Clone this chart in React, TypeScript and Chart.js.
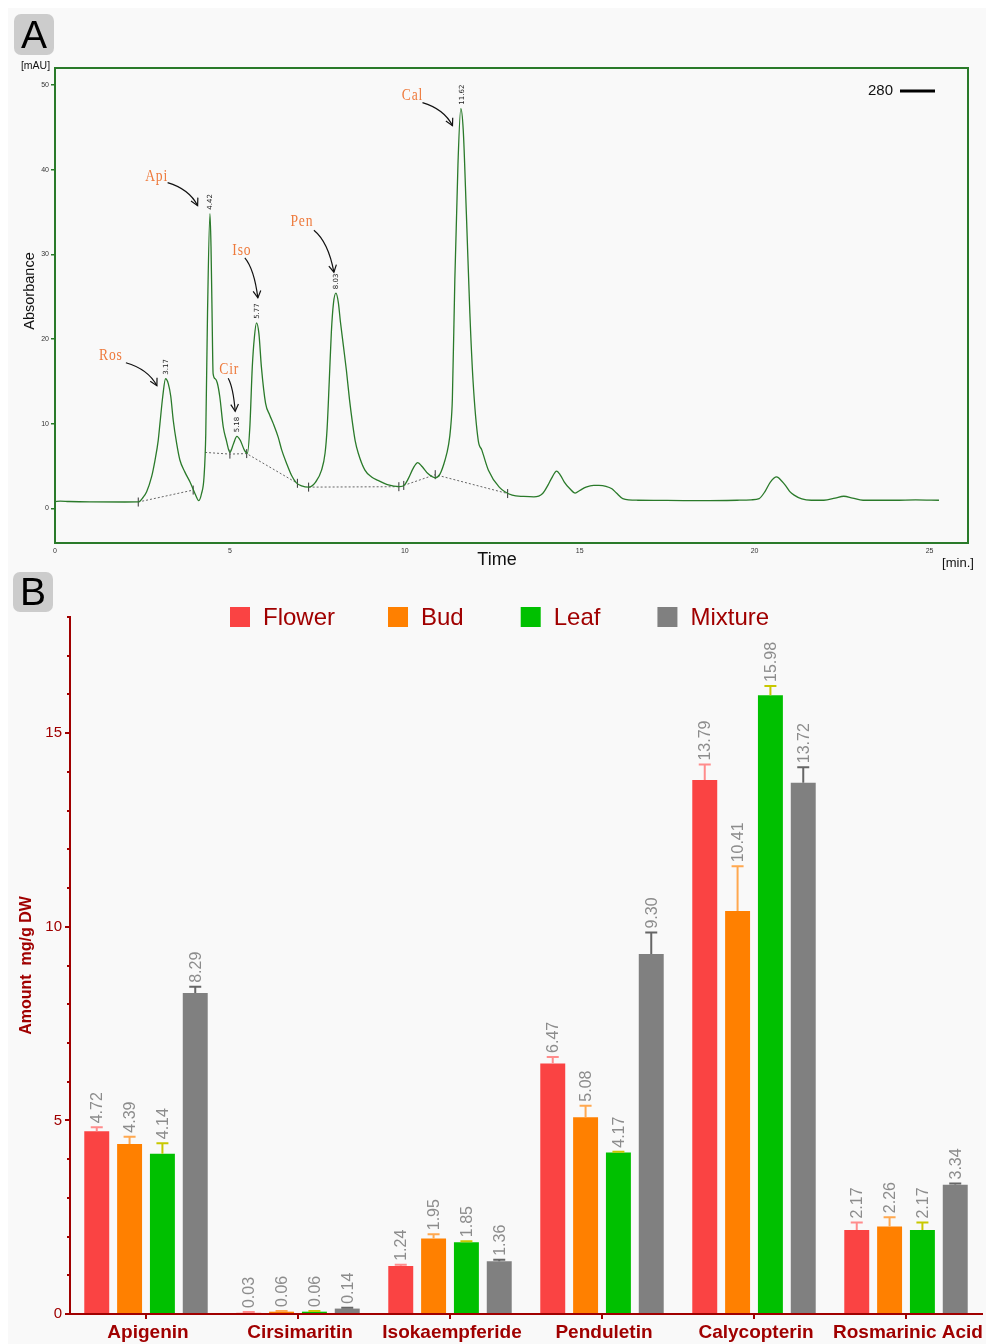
import React, { useEffect, useRef } from 'react';
import { Chart, registerables } from 'chart.js';
Chart.register(...registerables);

// ---------- Panel A : chromatogram (280 nm) ----------
const timeMin = [0, 0.15, 0.4, 1.0, 2.0, 2.38, 2.52, 2.62, 2.76, 2.86, 2.95, 3.0, 3.08, 3.16, 3.24, 3.31, 3.38, 3.48, 3.57, 3.71, 3.86, 4.0, 4.11, 4.19, 4.26, 4.31, 4.36, 4.43, 4.46, 4.49, 4.52, 4.58, 4.64, 4.71, 4.81, 4.9, 5.0, 5.1, 5.2, 5.3, 5.41, 5.5, 5.57, 5.64, 5.7, 5.76, 5.83, 5.9, 6.02, 6.14, 6.24, 6.38, 6.48, 6.62, 6.76, 6.9, 7.05, 7.25, 7.45, 7.62, 7.72, 7.78, 7.84, 7.9, 7.96, 8.03, 8.1, 8.16, 8.25, 8.33, 8.42, 8.5, 8.58, 8.67, 8.86, 9.05, 9.23, 9.5, 9.85, 10.0, 10.1, 10.25, 10.37, 10.5, 10.66, 10.87, 11.0, 11.15, 11.25, 11.31, 11.36, 11.43, 11.52, 11.6, 11.67, 11.76, 11.86, 11.95, 12.1, 12.2, 12.39, 12.7, 13.07, 13.4, 13.69, 13.94, 14.1, 14.19, 14.34, 14.45, 14.56, 14.72, 14.87, 15.0, 15.18, 15.4, 15.55, 15.75, 15.92, 16.05, 16.23, 16.66, 17.5, 18.5, 19.5, 19.9, 20.13, 20.3, 20.45, 20.63, 20.78, 20.88, 21.0, 21.13, 21.35, 21.62, 21.98, 22.3, 22.55, 22.8, 23.1, 24.0, 24.6, 25.27];
const absorbance = [0.78, 0.85, 0.8, 0.75, 0.74, 0.75, 1.3, 1.95, 3.7, 5.7, 8.0, 10.0, 13.2, 15.3, 14.7, 13.2, 10.4, 7.6, 5.7, 4.3, 3.1, 1.75, 0.9, 1.75, 3.7, 8.8, 23.0, 34.8, 30.9, 23.0, 15.9, 15.3, 14.8, 13.2, 9.6, 8.0, 6.6, 7.6, 8.5, 8.0, 6.9, 6.5, 9.6, 16.7, 20.2, 21.9, 20.6, 16.7, 12.4, 11.0, 10.0, 8.4, 6.9, 5.3, 3.9, 3.0, 2.65, 2.5, 3.1, 4.5, 6.5, 9.5, 15.0, 20.8, 24.2, 25.4, 24.3, 22.0, 19.0, 16.3, 12.8, 10.2, 8.0, 6.5, 4.5, 3.7, 3.3, 2.8, 2.55, 2.8, 3.5, 4.8, 5.4, 4.9, 4.1, 3.6, 4.0, 5.7, 7.5, 9.5, 13.0, 27.0, 40.7, 47.2, 44.7, 34.8, 23.0, 15.1, 8.0, 6.9, 4.5, 2.5, 1.55, 1.4, 1.35, 1.75, 2.8, 3.5, 4.4, 3.9, 3.1, 2.3, 1.8, 2.1, 2.5, 2.7, 2.7, 2.6, 2.3, 1.8, 1.15, 0.95, 0.93, 0.9, 0.95, 1.0, 1.15, 2.0, 3.1, 3.7, 3.2, 2.7, 2.0, 1.55, 1.1, 0.95, 0.95, 1.2, 1.42, 1.2, 0.95, 0.95, 1.0, 0.95];

const baselineTimes = [[2.38, 3.95], [4.29, 5.0, 5.48, 6.95], [7.25, 9.85], [9.97, 10.87, 12.94]];
const baselineLevels = [[0.74, 2.15], [6.6, 6.4, 6.46, 2.9], [2.5, 2.55], [2.7, 3.97, 1.74]];

const integrationTimes = [2.38, 3.95, 5.0, 5.48, 6.93, 7.25, 9.83, 9.97, 10.87, 12.94];
const integrationLevels = [0.74, 2.15, 6.4, 6.46, 2.95, 2.5, 2.55, 2.7, 3.97, 1.74];

const peakNames = ['Ros', 'Api', 'Cir', 'Iso', 'Pen', 'Cal'];
const peakTimes = [3.17, 4.42, 5.18, 5.77, 8.03, 11.62];
const peakHeights = [15.3, 34.8, 8.5, 21.9, 25.4, 47.2];

const xTicksA = [0, 5, 10, 15, 20, 25];
const yTicksA = [0, 10, 20, 30, 40, 50];

// ---------- Panel B : bar chart ----------
const compounds = ['Apigenin', 'Cirsimaritin', 'Isokaempferide', 'Penduletin', 'Calycopterin', 'Rosmarinic Acid'];
const seriesNames = ['Flower', 'Bud', 'Leaf', 'Mixture'];
const flower = [4.72, 0.03, 1.24, 6.47, 13.79, 2.17];
const flowerErr = [0.10, 0.02, 0.03, 0.17, 0.40, 0.19];
const bud = [4.39, 0.06, 1.95, 5.08, 10.41, 2.26];
const budErr = [0.19, 0.02, 0.11, 0.30, 1.15, 0.24];
const leaf = [4.14, 0.06, 1.85, 4.17, 15.98, 2.17];
const leafErr = [0.27, 0.02, 0.03, 0.02, 0.24, 0.19];
const mixture = [8.29, 0.14, 1.36, 9.30, 13.72, 3.34];
const mixtureErr = [0.16, 0.02, 0.04, 0.55, 0.40, 0.03];

const SANS = '"Liberation Sans", Arial, sans-serif';
const GREEN = '#2a7a2a';
const ORANGE = '#ee7a3c';
const DARKRED = '#a00000';
const barColors = ['#fa4343', '#ff8000', '#00c000', '#808080'];
const errColors = ['#ff8c8c', '#ffa84f', '#c8c800', '#666666'];

// pixel offsets of annotation text / arrows relative to each peak apex (styling)
const ANNOT = [
  { tx: -55, ty: -23, sx: -40, sy: -16, ex: -9, ey: 7 },
  { tx: -53, ty: -37, sx: -42, sy: -31, ex: -12, ey: -8 },
  { tx: -7, ty: -67, sx: -8, sy: -58, ex: -1, ey: -25 },
  { tx: -15, ty: -72, sx: -12, sy: -65, ex: 1, ey: -25 },
  { tx: -34, ty: -71, sx: -22, sy: -63, ex: -2, ey: -21 },
  { tx: -49, ty: -13, sx: -39, sy: -6, ex: -9, ey: 17 },
];

function drawArrow(ctx: CanvasRenderingContext2D, sx: number, sy: number, ex: number, ey: number) {
  const cx = sx + (ex - sx) * 0.72;
  const cy = sy + (ey - sy) * 0.28;
  ctx.beginPath();
  ctx.moveTo(sx, sy);
  ctx.quadraticCurveTo(cx, cy, ex, ey);
  ctx.stroke();
  const ang = Math.atan2(ey - cy, ex - cx);
  const L = 8;
  ctx.beginPath();
  ctx.moveTo(ex - L * Math.cos(ang - 0.5), ey - L * Math.sin(ang - 0.5));
  ctx.lineTo(ex, ey);
  ctx.lineTo(ex - L * Math.cos(ang + 0.5), ey - L * Math.sin(ang + 0.5));
  ctx.stroke();
}

const chromPlugin = {
  id: 'chromAnnot',
  afterDraw(chart: any) {
    const { ctx, chartArea: a, scales } = chart;
    const x = scales.x, y = scales.y;
    ctx.save();
    ctx.strokeStyle = GREEN;
    ctx.lineWidth = 2;
    ctx.strokeRect(a.left, a.top, a.right - a.left, a.bottom - a.top);

    peakTimes.forEach((t, i) => {
      const px = x.getPixelForValue(t);
      const py = y.getPixelForValue(peakHeights[i]);
      ctx.save();
      ctx.translate(px + 0.5, py - 4);
      ctx.rotate(-Math.PI / 2);
      ctx.font = '7px "DejaVu Sans", sans-serif';
      ctx.fillStyle = '#222';
      ctx.textAlign = 'left';
      ctx.textBaseline = 'middle';
      ctx.fillText(t.toFixed(2), 0, 0);
      ctx.restore();

      const o = ANNOT[i];
      ctx.save();
      ctx.translate(px + o.tx, py + o.ty);
      ctx.scale(0.85, 1);
      ctx.font = '16px "Liberation Serif", serif';
      (ctx as any).letterSpacing = '1px';
      ctx.fillStyle = ORANGE;
      ctx.textAlign = 'center';
      ctx.textBaseline = 'middle';
      ctx.fillText(peakNames[i], 0, 0);
      ctx.restore();

      ctx.strokeStyle = '#111';
      ctx.lineWidth = 1.2;
      drawArrow(ctx, px + o.sx, py + o.sy, px + o.ex, py + o.ey);
    });

    ctx.fillStyle = '#111';
    ctx.font = '10.5px ' + SANS;
    ctx.textAlign = 'center';
    ctx.textBaseline = 'middle';
    ctx.fillText('[mAU]', a.left - 19.5, a.top - 2);

    ctx.font = '18px ' + SANS;
    ctx.fillText('Time', (a.left + a.right) / 2 - 14.5, a.bottom + 17);
    ctx.font = '13px ' + SANS;
    ctx.fillText('[min.]', a.right - 10, a.bottom + 20);

    ctx.save();
    ctx.translate(a.left - 25, (a.top + a.bottom) / 2 - 14.5);
    ctx.rotate(-Math.PI / 2);
    ctx.font = '14.5px ' + SANS;
    ctx.fillText('Absorbance', 0, 0);
    ctx.restore();

    // series legend "280 ——"
    ctx.font = '15px ' + SANS;
    ctx.textAlign = 'right';
    ctx.fillText(chart.data.datasets[0].label, a.right - 75, a.top + 23);
    ctx.strokeStyle = '#000';
    ctx.lineWidth = 3;
    ctx.beginPath();
    ctx.moveTo(a.right - 68, a.top + 23);
    ctx.lineTo(a.right - 33, a.top + 23);
    ctx.stroke();
    ctx.restore();
  },
};

const errSets = [flowerErr, budErr, leafErr, mixtureErr];

const barPlugin = {
  id: 'barExtras',
  afterDatasetsDraw(chart: any) {
    const { ctx, scales } = chart;
    const ys = scales.y;
    ctx.save();
    chart.data.datasets.forEach((ds: any, di: number) => {
      const meta = chart.getDatasetMeta(di);
      meta.data.forEach((bar: any, i: number) => {
        const v = ds.data[i];
        const e = errSets[di][i];
        const yBar = ys.getPixelForValue(v);
        const yTop = ys.getPixelForValue(v + e);
        ctx.strokeStyle = errColors[di];
        ctx.lineWidth = 2;
        ctx.beginPath();
        ctx.moveTo(bar.x, yBar);
        ctx.lineTo(bar.x, yTop);
        ctx.moveTo(bar.x - 6, yTop);
        ctx.lineTo(bar.x + 6, yTop);
        ctx.stroke();

        ctx.save();
        ctx.translate(bar.x + 1, yTop - 4);
        ctx.rotate(-Math.PI / 2);
        ctx.font = '16px ' + SANS;
        ctx.fillStyle = '#8c8c8c';
        ctx.textAlign = 'left';
        ctx.textBaseline = 'middle';
        ctx.fillText(v.toFixed(2), 0, 0);
        ctx.restore();
      });
    });
    ctx.restore();
  },
  afterDraw(chart: any) {
    const { ctx, chartArea: a, scales } = chart;
    const ys = scales.y;
    ctx.save();
    // minor ticks
    ctx.strokeStyle = DARKRED;
    ctx.lineWidth = 2;
    for (let v = Math.ceil(ys.min); v <= ys.max; v++) {
      if (v % 5 === 0) continue;
      const py = Math.round(ys.getPixelForValue(v));
      ctx.beginPath();
      ctx.moveTo(a.left - 3, py);
      ctx.lineTo(a.left, py);
      ctx.stroke();
    }
    // legend
    let lx = 222;
    const ly = a.top;
    ctx.font = '24px ' + SANS;
    ctx.textBaseline = 'middle';
    ctx.textAlign = 'left';
    chart.data.datasets.forEach((ds: any, i: number) => {
      ctx.fillStyle = ds.backgroundColor;
      ctx.fillRect(lx, ly - 10, 20, 20);
      ctx.fillStyle = DARKRED;
      ctx.fillText(ds.label, lx + 33, ly + 1);
      lx += 33 + ctx.measureText(ds.label).width + (i === 0 ? 53 : 57);
    });
    // y title
    ctx.save();
    ctx.translate(19, (a.top + a.bottom) / 2);
    ctx.rotate(-Math.PI / 2);
    ctx.font = 'bold 16px ' + SANS;
    ctx.fillStyle = DARKRED;
    ctx.textAlign = 'center';
    ctx.fillText('Amount  mg/g DW', 0, 0);
    ctx.restore();
    ctx.restore();
  },
};

export default function App() {
  const refA = useRef<HTMLCanvasElement>(null);
  const refB = useRef<HTMLCanvasElement>(null);

  useEffect(() => {
    document.documentElement.style.overflow = 'hidden';
    document.body.style.margin = '8px 0 0 8px';
    Chart.defaults.font.family = SANS;

    const chartA = new Chart(refA.current!, {
      type: 'line',
      data: {
        datasets: [
          {
            label: '280',
            data: timeMin.map((t, i) => ({ x: t, y: absorbance[i] })),
            borderColor: GREEN,
            borderWidth: 1.3,
            pointRadius: 0,
            cubicInterpolationMode: 'monotone',
            fill: false,
          } as any,
          ...baselineTimes.map((seg, si) => ({
            label: 'baseline' + si,
            data: seg.map((t, i) => ({ x: t, y: baselineLevels[si][i] })),
            borderColor: '#666',
            borderWidth: 1,
            borderDash: [2, 2],
            pointRadius: 0,
            tension: 0,
            fill: false,
          })),
          {
            label: 'integration',
            data: integrationTimes.map((t, i) => ({ x: t, y: integrationLevels[i] })),
            showLine: false,
            pointStyle: 'line',
            rotation: 90,
            pointRadius: 4.5,
            borderColor: '#333',
            borderWidth: 1,
          } as any,
        ],
      },
      options: {
        animation: false,
        responsive: false,
        events: [],
        layout: { padding: { left: 0, right: 18, top: 60, bottom: 0 }, autoPadding: false } as any,
        plugins: { legend: { display: false }, tooltip: { enabled: false } },
        scales: {
          x: {
            type: 'linear',
            min: 0,
            max: 26.1,
            afterBuildTicks: (s: any) => { s.ticks = xTicksA.map((v) => ({ value: v })); },
            ticks: { font: { size: 7 }, color: '#333', padding: 4, maxRotation: 0 },
            grid: { display: false, drawTicks: false },
            border: { display: false },
            afterFit: (s: any) => { s.height = 35; },
          },
          y: {
            min: -4.1,
            max: 52,
            afterBuildTicks: (s: any) => { s.ticks = yTicksA.map((v) => ({ value: v })); },
            ticks: { font: { size: 7 }, color: '#333', padding: 2 },
            grid: { drawOnChartArea: false, tickLength: 4, color: GREEN, lineWidth: 1.5 },
            border: { display: false },
            afterFit: (s: any) => { s.width = 47; },
          },
        },
      } as any,
      plugins: [chromPlugin],
    });

    const values = [flower, bud, leaf, mixture];
    const chartB = new Chart(refB.current!, {
      type: 'bar',
      data: {
        labels: compounds,
        datasets: seriesNames.map((n, i) => ({
          label: n,
          data: values[i],
          backgroundColor: barColors[i],
          borderWidth: 0,
          categoryPercentage: 0.864,
          barPercentage: 0.76,
        })),
      },
      options: {
        animation: false,
        responsive: false,
        events: [],
        layout: { padding: { left: 0, right: 4, top: 39, bottom: 0 }, autoPadding: false } as any,
        plugins: { legend: { display: false }, tooltip: { enabled: false } },
        scales: {
          x: {
            grid: { display: true, drawOnChartArea: false, offset: false, tickLength: 5, color: DARKRED, lineWidth: 2 },
            border: { display: true, color: DARKRED, width: 2 },
            ticks: { font: { size: 19, weight: 'bold' }, color: DARKRED, padding: 2, autoSkip: false, maxRotation: 0, labelOffset: 2 },
            afterFit: (s: any) => { s.height = 30; },
          },
          y: {
            min: 0,
            max: 18,
            ticks: { stepSize: 5, includeBounds: false, font: { size: 15 }, color: DARKRED, padding: 3 },
            grid: { drawOnChartArea: false, tickLength: 5, color: DARKRED, lineWidth: 2 },
            border: { display: true, color: DARKRED, width: 2 },
            afterFit: (s: any) => { s.width = 62; },
          },
        },
      } as any,
      plugins: [barPlugin],
    });

    return () => {
      chartA.destroy();
      chartB.destroy();
    };
  }, []);

  const badge: React.CSSProperties = {
    position: 'absolute',
    width: 40,
    background: '#cccccc',
    borderRadius: 7,
    fontFamily: SANS,
    fontSize: 39,
    color: '#000',
    textAlign: 'center',
    zIndex: 2,
  };

  return (
    <div style={{ position: 'relative', width: 978, height: 1336, background: '#f9f9f9', overflow: 'hidden' }}>
      <canvas ref={refA} width={978} height={570} style={{ position: 'absolute', left: 0, top: 0, display: 'block' }} />
      <canvas ref={refB} width={978} height={766} style={{ position: 'absolute', left: 0, top: 570, display: 'block' }} />
      <div style={{ ...badge, left: 6, top: 6, height: 41, lineHeight: '41px' }}>A</div>
      <div style={{ ...badge, left: 5, top: 564, height: 40, lineHeight: '40px' }}>B</div>
    </div>
  );
}
